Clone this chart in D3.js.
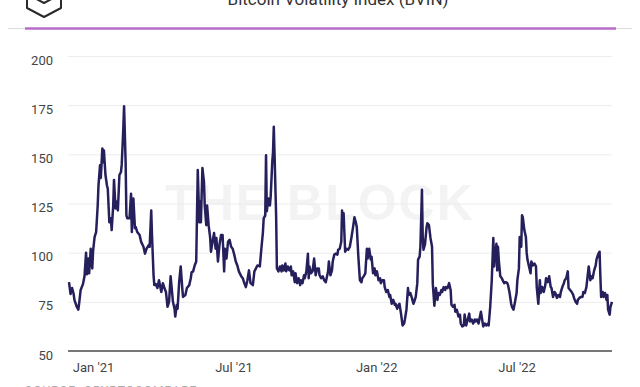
<!DOCTYPE html>
<html>
<head>
<meta charset="utf-8">
<script src="https://cdn.jsdelivr.net/npm/d3@7"></script>
<style>
  body { margin: 0; background: #fff; }
  svg text { font-family: "Liberation Sans Narrow", Roboto, "Liberation Sans", sans-serif; }
</style>
</head>
<body>
<div id="chart"></div>
<script>
var title = "Bitcoin Volatility Index (BVIN)";
var source = "SOURCE: CRYPTOCOMPARE";
var watermark = "THE BLOCK";
var yTicks = [50, 75, 100, 125, 150, 175, 200];
var xTicks = ["2021-01-01", "2021-07-01", "2022-01-01", "2022-07-01"];

// daily BVIN closes, sampled roughly every other day
var dates = [
  "2020-12-01","2020-12-03","2020-12-05","2020-12-07","2020-12-08","2020-12-11","2020-12-13","2020-12-14","2020-12-16","2020-12-19",
  "2020-12-21","2020-12-23","2020-12-24","2020-12-26","2020-12-27","2020-12-29","2020-12-31","2021-01-01","2021-01-03","2021-01-05",
  "2021-01-07","2021-01-08","2021-01-10","2021-01-11","2021-01-13","2021-01-14","2021-01-15","2021-01-17","2021-01-19","2021-01-20",
  "2021-01-22","2021-01-24","2021-01-25","2021-01-27","2021-01-28","2021-01-30","2021-01-31","2021-02-02","2021-02-04","2021-02-06",
  "2021-02-07","2021-02-09","2021-02-10","2021-02-12","2021-02-13","2021-02-14","2021-02-17","2021-02-19","2021-02-20","2021-02-22",
  "2021-02-24","2021-02-25","2021-02-27","2021-03-02","2021-03-04","2021-03-07","2021-03-09","2021-03-11","2021-03-14","2021-03-15",
  "2021-03-17","2021-03-18","2021-03-20","2021-03-21","2021-03-23","2021-03-25","2021-03-27","2021-03-30","2021-04-01","2021-04-03",
  "2021-04-05","2021-04-07","2021-04-09","2021-04-11","2021-04-14","2021-04-16","2021-04-17","2021-04-19","2021-04-20","2021-04-22",
  "2021-04-24","2021-04-26","2021-04-27","2021-04-30","2021-05-02","2021-05-05","2021-05-07","2021-05-08","2021-05-10","2021-05-12",
  "2021-05-14","2021-05-15","2021-05-16","2021-05-18","2021-05-19","2021-05-20","2021-05-22","2021-05-24","2021-05-25","2021-05-27",
  "2021-05-28","2021-05-30","2021-06-01","2021-06-02","2021-06-04","2021-06-06","2021-06-08","2021-06-09","2021-06-11","2021-06-13",
  "2021-06-15","2021-06-17","2021-06-19","2021-06-20","2021-06-22","2021-06-24","2021-06-26","2021-06-28","2021-06-30","2021-07-02",
  "2021-07-04","2021-07-06","2021-07-08","2021-07-11","2021-07-13","2021-07-15","2021-07-17","2021-07-19","2021-07-21","2021-07-23",
  "2021-07-26","2021-07-28","2021-07-30","2021-08-01","2021-08-04","2021-08-06","2021-08-08","2021-08-09","2021-08-11","2021-08-12",
  "2021-08-13","2021-08-15","2021-08-17","2021-08-18","2021-08-20","2021-08-21","2021-08-22","2021-08-23","2021-08-25","2021-08-26",
  "2021-08-28","2021-08-30","2021-09-01","2021-09-02","2021-09-04","2021-09-06","2021-09-07","2021-09-09","2021-09-11","2021-09-13",
  "2021-09-14","2021-09-16","2021-09-18","2021-09-19","2021-09-21","2021-09-23","2021-09-25","2021-09-26","2021-09-28","2021-09-30",
  "2021-10-01","2021-10-03","2021-10-05","2021-10-06","2021-10-07","2021-10-09","2021-10-11","2021-10-13","2021-10-15","2021-10-17",
  "2021-10-19","2021-10-20","2021-10-22","2021-10-24","2021-10-26","2021-10-28","2021-10-31","2021-11-01","2021-11-03","2021-11-05",
  "2021-11-06","2021-11-08","2021-11-10","2021-11-12","2021-11-13","2021-11-15","2021-11-17","2021-11-18","2021-11-19","2021-11-20",
  "2021-11-22","2021-11-24","2021-11-26","2021-11-28","2021-11-30","2021-12-02","2021-12-04","2021-12-06","2021-12-07","2021-12-09",
  "2021-12-11","2021-12-13","2021-12-14","2021-12-16","2021-12-18","2021-12-20","2021-12-21","2021-12-23","2021-12-25","2021-12-26",
  "2021-12-28","2021-12-30","2021-12-31","2022-01-02","2022-01-04","2022-01-06","2022-01-07","2022-01-09","2022-01-11","2022-01-12",
  "2022-01-14","2022-01-16","2022-01-18","2022-01-19","2022-01-21","2022-01-23","2022-01-25","2022-01-26","2022-01-28","2022-01-30",
  "2022-01-31","2022-02-02","2022-02-04","2022-02-06","2022-02-07","2022-02-09","2022-02-11","2022-02-12","2022-02-14","2022-02-16",
  "2022-02-18","2022-02-19","2022-02-21","2022-02-23","2022-02-24","2022-02-26","2022-02-27","2022-03-01","2022-03-02","2022-03-03",
  "2022-03-05","2022-03-07","2022-03-08","2022-03-10","2022-03-12","2022-03-14","2022-03-15","2022-03-17","2022-03-19","2022-03-21",
  "2022-03-22","2022-03-24","2022-03-26","2022-03-27","2022-03-29","2022-03-31","2022-04-01","2022-04-03","2022-04-05","2022-04-07",
  "2022-04-08","2022-04-10","2022-04-12","2022-04-13","2022-04-15","2022-04-17","2022-04-19","2022-04-20","2022-04-22","2022-04-24",
  "2022-04-25","2022-04-27","2022-04-29","2022-05-01","2022-05-02","2022-05-04","2022-05-06","2022-05-08","2022-05-09","2022-05-11",
  "2022-05-13","2022-05-14","2022-05-16","2022-05-18","2022-05-19","2022-05-21","2022-05-23","2022-05-25","2022-05-26","2022-05-28",
  "2022-05-30","2022-06-01","2022-06-02","2022-06-03","2022-06-05","2022-06-06","2022-06-07","2022-06-08","2022-06-10","2022-06-12",
  "2022-06-13","2022-06-15","2022-06-17","2022-06-19","2022-06-20","2022-06-22","2022-06-24","2022-06-25","2022-06-27","2022-06-29",
  "2022-07-01","2022-07-02","2022-07-04","2022-07-05","2022-07-07","2022-07-08","2022-07-09","2022-07-11","2022-07-13","2022-07-14",
  "2022-07-15","2022-07-17","2022-07-19","2022-07-20","2022-07-22","2022-07-24","2022-07-26","2022-07-27","2022-07-29","2022-07-31",
  "2022-08-01","2022-08-03","2022-08-05","2022-08-07","2022-08-08","2022-08-10","2022-08-12","2022-08-14","2022-08-15","2022-08-17",
  "2022-08-19","2022-08-20","2022-08-22","2022-08-24","2022-08-26","2022-08-27","2022-08-29","2022-08-31","2022-09-01","2022-09-03",
  "2022-09-05","2022-09-06","2022-09-08","2022-09-10","2022-09-12","2022-09-13","2022-09-15","2022-09-17","2022-09-18","2022-09-20",
  "2022-09-22","2022-09-24","2022-09-25","2022-09-27","2022-09-29","2022-09-30","2022-10-02","2022-10-04","2022-10-06","2022-10-07",
  "2022-10-09","2022-10-11","2022-10-12","2022-10-14","2022-10-16","2022-10-17","2022-10-18","2022-10-20","2022-10-21","2022-10-23",
  "2022-10-25","2022-10-26","2022-10-27","2022-10-29","2022-10-30","2022-11-01"
];
var bvin = [
  85,79,82,79,76,72.5,71,74,81,84,
  88,100,89,97,89.5,102,92,100.5,108,110.5,
  124,134,144.5,138,153,146,152,139.5,134,132.5,
  115.5,117.5,111.5,124,137,122.5,126,121.5,139.5,141,
  145,163,174.5,146,119,117.5,117.5,130,110.5,127.5,
  112.5,113,110.5,109,105.5,103,99.5,102,104,103,
  121.5,109,88.5,83.5,84,82,86,80,84.5,82,
  80,72.5,75,88,75,71.5,67.5,73.5,71.5,85,
  93,82,77.5,78.5,82,83.5,87,90,90.5,93.5,
  95.5,119,142,115.5,126,115.5,143,136,124,114,
  124,114,107.5,100.5,105.5,110,102,107.5,95.5,104,
  109,109,90.5,102,97,105.5,106.5,103,102,99,
  95.5,93.5,90.5,88,87,84.5,82.5,86,91,84.5,
  83.5,90.5,92,93.5,93,102,110.5,117.5,119,149.5,
  121,127.5,124,128.5,146,151,164,149.5,119,92,
  90.5,93,90.5,93.5,91,94.5,90.5,93,91,93,
  88.5,90.5,85,89.5,84.5,87,83.5,86,84.5,88.5,
  87,90.5,99.5,87,93,89.5,90.5,97,88.5,92,
  92,88.5,87,88,86,85,90.5,95.5,88.5,91,
  95.5,99,99.5,99,101.5,102,105.5,121.5,115,120,
  100.5,102,101.5,103,107.5,112.5,118,115,113,98,
  86,85,87,88,89.5,102,97,102,96.5,98,
  89.5,92,88.5,90.5,86,87,84.5,86,86,82.5,
  80,81,77.5,78.5,74,76,73.5,74,71.5,73.5,
  74,69,63,64,66,71,82,78.5,79.5,77,
  74,75,77.5,84.5,96.5,98,103,132,108,101.5,
  104.5,113,115,114,107.5,103,84,73,82,76,
  79.5,78.5,81,80,82.5,81,82.5,82,84.5,81,
  73.5,72.5,73.5,70,71,67.5,68.5,64,62.5,63,
  68.5,63,66,69,65,66,64,66,65,66,
  64,66,70,65,62.5,64,63,64,63,72.5,
  86,107.5,93,98,104.5,91,103,96.5,88,87,
  86,84.5,85,84.5,83.5,79.5,74,72.5,71,75,
  79.5,86,92,108,103,119,118,111.5,108,100,
  96.5,93,89.5,95.5,93.5,94.5,93,82.5,74,86,
  79.5,82.5,80,83.5,87,85,88,82.5,82,77.5,
  80,79.5,77,78.5,77.5,80,82.5,84.5,86,87,
  90.5,82,81,80,78.5,77,75,74,76,77,
  77.5,77.5,80,79.5,82.5,86,93,86,88,87,
  91,93.5,96.5,99,100.5,88,77.5,80,77.5,79.5,
  76,78.5,71,68.5,72.5,75
];

var W = 640, H = 387;
var parse = d3.timeParse("%Y-%m-%d");
var series = dates.map(function (d, i) { return { date: parse(d), value: bvin[i] }; });

var svg = d3.select("#chart").append("svg")
    .attr("width", W)
    .attr("height", H);

var x = d3.scaleTime()
    .domain([parse("2020-12-01"), parse("2022-11-01")])
    .range([69, 612]);
var y = d3.scaleLinear()
    .domain([50, 200])
    .range([351, 56]);

// header: logo, title, rules
var cube = svg.append("g")
    .attr("fill", "none")
    .attr("stroke", "#2b2b2b")
    .attr("stroke-width", 2)
    .attr("stroke-linejoin", "round");
cube.append("path").attr("d", "M44,-15 L61,-6 L61,8 L44,17 L27,8 L27,-6 Z");
cube.append("path").attr("d", "M27,-6 L44,3 L61,-6");

svg.append("text")
    .attr("x", 338)
    .attr("y", 5)
    .attr("text-anchor", "middle")
    .style("font-family", "Roboto, 'Liberation Sans', sans-serif")
    .style("font-size", "17px")
    .style("fill", "#333")
    .text(title);

svg.append("line")
    .attr("x1", 8).attr("x2", 632)
    .attr("y1", 28.5).attr("y2", 28.5)
    .attr("stroke", "#dcdcdc");
svg.append("line")
    .attr("x1", 25).attr("x2", 616)
    .attr("y1", 28.5).attr("y2", 28.5)
    .attr("stroke", "#b66cc8")
    .attr("stroke-width", 2.5);

// watermark
svg.append("text")
    .attr("x", 320)
    .attr("y", 220)
    .attr("text-anchor", "middle")
    .style("font-family", "'Liberation Sans', Arial, sans-serif")
    .style("font-weight", "bold")
    .style("font-size", "50px")
    .style("letter-spacing", "2px")
    .style("fill", "#f3f3f3")
    .text(watermark);

// grid
svg.append("g")
    .selectAll("line")
    .data(yTicks.filter(function (t) { return t > 50; }))
    .enter().append("line")
    .attr("x1", 68).attr("x2", 612)
    .attr("y1", function (d) { return y(d) + 0.5; })
    .attr("y2", function (d) { return y(d) + 0.5; })
    .attr("stroke", "#ececec");

var yAxis = svg.append("g")
    .attr("transform", "translate(53,0)")
    .call(d3.axisLeft(y).tickValues(yTicks).tickSize(0).tickPadding(0));
yAxis.select(".domain").remove();
yAxis.selectAll("text")
    .attr("dy", "0.62em")
    .style("font-size", "13px")
    .style("fill", "#444");

var xAxis = svg.append("g")
    .attr("transform", "translate(0,351)")
    .call(d3.axisBottom(x)
        .tickValues(xTicks.map(parse))
        .tickFormat(d3.timeFormat("%b '%y"))
        .tickSize(0)
        .tickPadding(12));
xAxis.select(".domain").remove();
xAxis.selectAll("text")
    .style("font-size", "13px")
    .style("fill", "#444");

svg.append("line")
    .attr("x1", 68).attr("x2", 612)
    .attr("y1", y(50)).attr("y2", y(50))
    .attr("stroke", "#777")
    .attr("stroke-width", 2);

// the series
var line = d3.line()
    .x(function (d) { return x(d.date); })
    .y(function (d) { return y(d.value); });
svg.append("path")
    .datum(series)
    .attr("fill", "none")
    .attr("stroke", "#25205c")
    .attr("stroke-width", 2.5)
    .attr("stroke-linejoin", "round")
    .attr("d", line);

// footer, mostly cropped
svg.append("text")
    .attr("x", 25)
    .attr("y", 395)
    .style("font-size", "12px")
    .style("letter-spacing", "1px")
    .style("fill", "#aaa")
    .text(source);
</script>
</body>
</html>
